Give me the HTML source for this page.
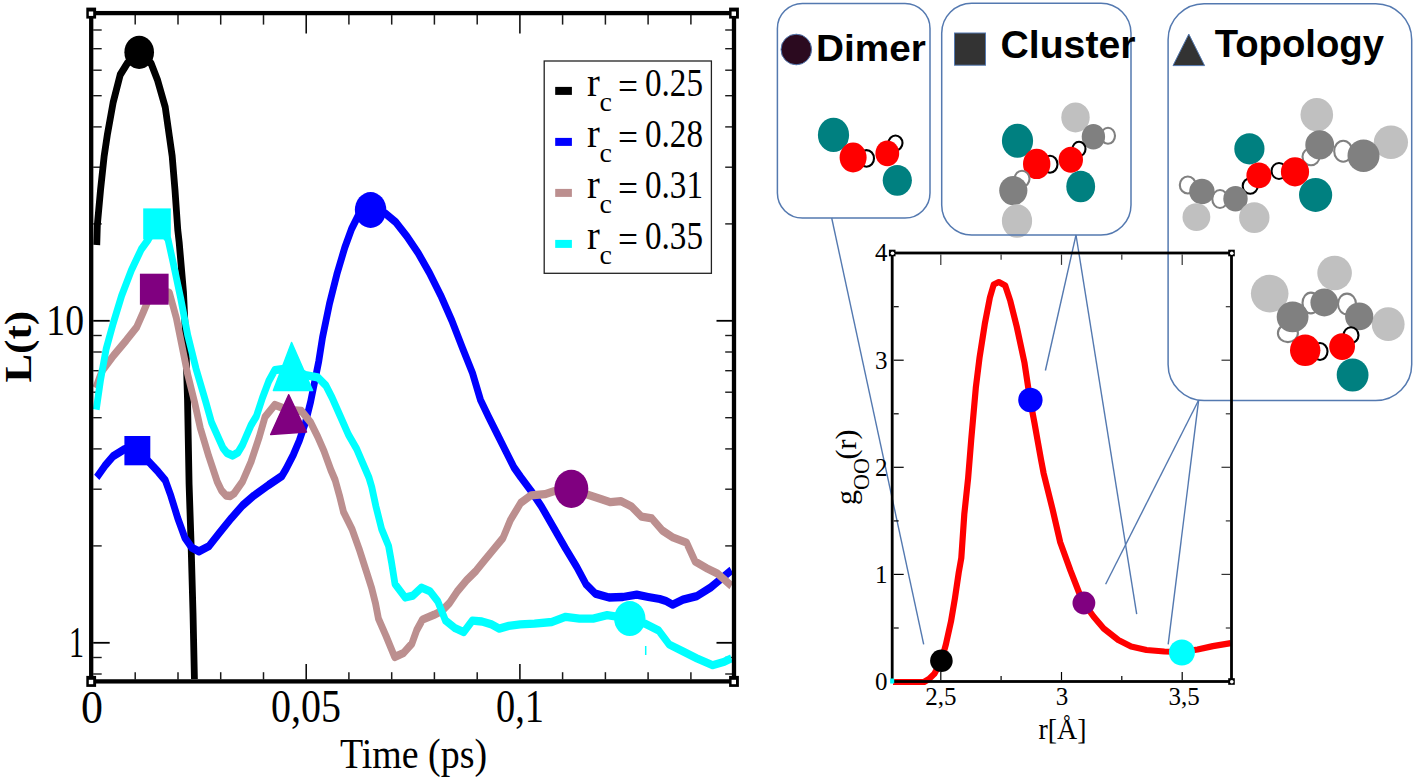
<!DOCTYPE html><html><head><meta charset="utf-8"><style>html,body{margin:0;padding:0;background:#fff;overflow:hidden;}.s{font-family:"Liberation Serif",serif;}.a{font-family:"Liberation Sans",sans-serif;}svg{display:block;}</style></head><body><svg width="1416" height="782" viewBox="0 0 1416 782">
<rect width="1416" height="782" fill="#fff"/>
<line x1="93.2" y1="674.0" x2="101.7" y2="674.0" stroke="#1a1a1a" stroke-width="1.4"/>
<line x1="732.0" y1="674.0" x2="725.2" y2="674.0" stroke="#1a1a1a" stroke-width="1.4"/>
<line x1="93.2" y1="657.5" x2="101.7" y2="657.5" stroke="#1a1a1a" stroke-width="1.4"/>
<line x1="732.0" y1="657.5" x2="725.2" y2="657.5" stroke="#1a1a1a" stroke-width="1.4"/>
<line x1="93.2" y1="642.8" x2="109.7" y2="642.8" stroke="#000" stroke-width="1.8"/>
<line x1="732.0" y1="642.8" x2="716.5" y2="642.8" stroke="#000" stroke-width="1.8"/>
<line x1="93.2" y1="545.9" x2="101.7" y2="545.9" stroke="#1a1a1a" stroke-width="1.4"/>
<line x1="732.0" y1="545.9" x2="725.2" y2="545.9" stroke="#1a1a1a" stroke-width="1.4"/>
<line x1="93.2" y1="489.2" x2="101.7" y2="489.2" stroke="#1a1a1a" stroke-width="1.4"/>
<line x1="732.0" y1="489.2" x2="725.2" y2="489.2" stroke="#1a1a1a" stroke-width="1.4"/>
<line x1="93.2" y1="448.9" x2="101.7" y2="448.9" stroke="#1a1a1a" stroke-width="1.4"/>
<line x1="732.0" y1="448.9" x2="725.2" y2="448.9" stroke="#1a1a1a" stroke-width="1.4"/>
<line x1="93.2" y1="417.7" x2="101.7" y2="417.7" stroke="#1a1a1a" stroke-width="1.4"/>
<line x1="732.0" y1="417.7" x2="725.2" y2="417.7" stroke="#1a1a1a" stroke-width="1.4"/>
<line x1="93.2" y1="392.2" x2="101.7" y2="392.2" stroke="#1a1a1a" stroke-width="1.4"/>
<line x1="732.0" y1="392.2" x2="725.2" y2="392.2" stroke="#1a1a1a" stroke-width="1.4"/>
<line x1="93.2" y1="370.7" x2="101.7" y2="370.7" stroke="#1a1a1a" stroke-width="1.4"/>
<line x1="732.0" y1="370.7" x2="725.2" y2="370.7" stroke="#1a1a1a" stroke-width="1.4"/>
<line x1="93.2" y1="352.0" x2="101.7" y2="352.0" stroke="#1a1a1a" stroke-width="1.4"/>
<line x1="732.0" y1="352.0" x2="725.2" y2="352.0" stroke="#1a1a1a" stroke-width="1.4"/>
<line x1="93.2" y1="335.5" x2="101.7" y2="335.5" stroke="#1a1a1a" stroke-width="1.4"/>
<line x1="732.0" y1="335.5" x2="725.2" y2="335.5" stroke="#1a1a1a" stroke-width="1.4"/>
<line x1="93.2" y1="320.8" x2="109.7" y2="320.8" stroke="#000" stroke-width="1.8"/>
<line x1="732.0" y1="320.8" x2="716.5" y2="320.8" stroke="#000" stroke-width="1.8"/>
<line x1="93.2" y1="223.9" x2="101.7" y2="223.9" stroke="#1a1a1a" stroke-width="1.4"/>
<line x1="732.0" y1="223.9" x2="725.2" y2="223.9" stroke="#1a1a1a" stroke-width="1.4"/>
<line x1="93.2" y1="167.2" x2="101.7" y2="167.2" stroke="#1a1a1a" stroke-width="1.4"/>
<line x1="732.0" y1="167.2" x2="725.2" y2="167.2" stroke="#1a1a1a" stroke-width="1.4"/>
<line x1="93.2" y1="126.9" x2="101.7" y2="126.9" stroke="#1a1a1a" stroke-width="1.4"/>
<line x1="732.0" y1="126.9" x2="725.2" y2="126.9" stroke="#1a1a1a" stroke-width="1.4"/>
<line x1="93.2" y1="95.7" x2="101.7" y2="95.7" stroke="#1a1a1a" stroke-width="1.4"/>
<line x1="732.0" y1="95.7" x2="725.2" y2="95.7" stroke="#1a1a1a" stroke-width="1.4"/>
<line x1="93.2" y1="70.2" x2="101.7" y2="70.2" stroke="#1a1a1a" stroke-width="1.4"/>
<line x1="732.0" y1="70.2" x2="725.2" y2="70.2" stroke="#1a1a1a" stroke-width="1.4"/>
<line x1="93.2" y1="48.7" x2="101.7" y2="48.7" stroke="#1a1a1a" stroke-width="1.4"/>
<line x1="732.0" y1="48.7" x2="725.2" y2="48.7" stroke="#1a1a1a" stroke-width="1.4"/>
<line x1="93.2" y1="30.0" x2="101.7" y2="30.0" stroke="#1a1a1a" stroke-width="1.4"/>
<line x1="732.0" y1="30.0" x2="725.2" y2="30.0" stroke="#1a1a1a" stroke-width="1.4"/>
<line x1="135.2" y1="679.4" x2="135.2" y2="672.1999999999999" stroke="#1a1a1a" stroke-width="1.5"/>
<line x1="135.2" y1="15.1" x2="135.2" y2="24.6" stroke="#1a1a1a" stroke-width="1.5"/>
<line x1="178.0" y1="679.4" x2="178.0" y2="672.1999999999999" stroke="#1a1a1a" stroke-width="1.5"/>
<line x1="178.0" y1="15.1" x2="178.0" y2="24.6" stroke="#1a1a1a" stroke-width="1.5"/>
<line x1="220.7" y1="679.4" x2="220.7" y2="672.1999999999999" stroke="#1a1a1a" stroke-width="1.5"/>
<line x1="220.7" y1="15.1" x2="220.7" y2="24.6" stroke="#1a1a1a" stroke-width="1.5"/>
<line x1="263.5" y1="679.4" x2="263.5" y2="672.1999999999999" stroke="#1a1a1a" stroke-width="1.5"/>
<line x1="263.5" y1="15.1" x2="263.5" y2="24.6" stroke="#1a1a1a" stroke-width="1.5"/>
<line x1="306.2" y1="679.4" x2="306.2" y2="664.0" stroke="#000" stroke-width="1.5"/>
<line x1="306.2" y1="15.1" x2="306.2" y2="33.6" stroke="#000" stroke-width="1.5"/>
<line x1="348.9" y1="679.4" x2="348.9" y2="672.1999999999999" stroke="#1a1a1a" stroke-width="1.5"/>
<line x1="348.9" y1="15.1" x2="348.9" y2="24.6" stroke="#1a1a1a" stroke-width="1.5"/>
<line x1="391.7" y1="679.4" x2="391.7" y2="672.1999999999999" stroke="#1a1a1a" stroke-width="1.5"/>
<line x1="391.7" y1="15.1" x2="391.7" y2="24.6" stroke="#1a1a1a" stroke-width="1.5"/>
<line x1="434.4" y1="679.4" x2="434.4" y2="672.1999999999999" stroke="#1a1a1a" stroke-width="1.5"/>
<line x1="434.4" y1="15.1" x2="434.4" y2="24.6" stroke="#1a1a1a" stroke-width="1.5"/>
<line x1="477.2" y1="679.4" x2="477.2" y2="672.1999999999999" stroke="#1a1a1a" stroke-width="1.5"/>
<line x1="477.2" y1="15.1" x2="477.2" y2="24.6" stroke="#1a1a1a" stroke-width="1.5"/>
<line x1="519.9" y1="679.4" x2="519.9" y2="664.0" stroke="#000" stroke-width="1.5"/>
<line x1="519.9" y1="15.1" x2="519.9" y2="33.6" stroke="#000" stroke-width="1.5"/>
<line x1="562.6" y1="679.4" x2="562.6" y2="672.1999999999999" stroke="#1a1a1a" stroke-width="1.5"/>
<line x1="562.6" y1="15.1" x2="562.6" y2="24.6" stroke="#1a1a1a" stroke-width="1.5"/>
<line x1="605.4" y1="679.4" x2="605.4" y2="672.1999999999999" stroke="#1a1a1a" stroke-width="1.5"/>
<line x1="605.4" y1="15.1" x2="605.4" y2="24.6" stroke="#1a1a1a" stroke-width="1.5"/>
<line x1="648.1" y1="679.4" x2="648.1" y2="672.1999999999999" stroke="#1a1a1a" stroke-width="1.5"/>
<line x1="648.1" y1="15.1" x2="648.1" y2="24.6" stroke="#1a1a1a" stroke-width="1.5"/>
<line x1="690.9" y1="679.4" x2="690.9" y2="672.1999999999999" stroke="#1a1a1a" stroke-width="1.5"/>
<line x1="690.9" y1="15.1" x2="690.9" y2="24.6" stroke="#1a1a1a" stroke-width="1.5"/>
<g clip-path="url(#cp)"><g transform="scale(0.82,1)">
<polyline points="118.0,245.0 118.7,225.0 122.6,190.0 127.0,156.3 131.1,133.8 137.9,102.8 146.6,74.7 155.1,63.5 169.8,52.3 184.3,63.5 192.2,80.3 201.5,107.1 206.6,136.6 210.0,156.3 213.4,190.0 216.8,230.0 218.5,242.2 223.8,292.8 226.5,340.7 228.7,400.0 230.6,484.4 232.9,540.7 235.4,613.7 237.1,679.0" fill="none" stroke="#000" stroke-width="8.3" stroke-linejoin="round" stroke-linecap="butt" />
<polyline points="118.0,477.4 127.7,466.1 137.9,456.3 151.7,449.2 167.4,450.6 183.3,463.3 192.8,471.7 201.5,480.2 208.3,495.7 216.8,518.2 225.5,537.9 234.0,547.7 242.6,551.4 254.6,546.3 268.3,532.2 282.1,518.2 295.7,505.5 309.5,495.7 327.6,485.0 343.8,476.0 348.8,469.0 357.6,455.0 365.0,440.7 372.6,422.3 378.8,401.8 383.8,381.4 388.8,360.9 393.3,337.5 401.8,303.8 411.3,272.8 420.5,247.5 428.7,229.0 436.6,216.0 452.0,210.0 470.5,213.8 482.6,222.2 496.2,236.3 510.0,253.1 523.7,272.8 537.4,295.3 551.1,320.7 564.0,348.0 576.2,373.0 586.0,400.0 595.7,416.6 606.0,433.5 616.3,450.3 626.6,467.2 635.0,477.0 647.7,491.0 660.2,506.3 675.4,528.0 689.4,548.0 703.4,567.0 714.8,584.4 726.0,593.6 742.8,597.5 759.6,597.0 776.5,594.7 790.5,597.0 804.6,599.0 812.2,601.0 820.4,604.7 832.9,599.6 849.8,596.1 866.6,587.5 879.3,578.9 892.0,570.2" fill="none" stroke="#0000ff" stroke-width="8.3" stroke-linejoin="round" stroke-linecap="butt" />
<polyline points="116.8,388.0 124.4,371.0 138.5,355.5 154.1,340.2 166.5,327.4 174.3,313.0 180.9,300.0 188.0,289.2 206.6,292.8 215.1,318.2 222.0,346.3 228.9,374.4 237.4,402.6 244.3,428.1 254.6,456.3 264.9,481.6 270.1,490.5 275.6,495.5 281.1,496.0 285.5,493.5 295.7,481.6 306.1,461.9 316.3,436.6 323.2,416.9 335.1,404.9 351.2,410.0 367.6,411.0 378.8,422.3 387.4,436.6 395.0,450.9 403.5,470.0 408.7,480.0 413.9,495.3 419.0,512.2 429.3,529.1 437.9,548.8 447.0,572.0 453.2,588.0 457.9,603.3 461.5,618.6 470.7,635.9 481.3,657.0 491.8,653.2 502.3,643.6 508.2,630.1 515.2,619.6 529.3,614.8 538.7,611.0 547.9,603.3 557.3,591.8 569.0,580.3 580.7,570.7 590.1,561.1 601.7,549.6 613.4,538.0 622.4,520.1 635.0,502.9 647.7,495.3 664.5,494.2 677.2,490.8 696.7,488.8 715.0,494.2 731.8,498.7 744.5,502.2 757.2,501.2 769.8,506.3 782.4,516.7 795.0,518.4 807.7,530.5 820.4,537.4 837.2,542.6 847.7,561.6 862.4,568.5 875.1,573.7 892.0,585.8" fill="none" stroke="#bc8f8f" stroke-width="8.3" stroke-linejoin="round" stroke-linecap="butt" />
<polyline points="117.4,409.6 122.6,380.0 129.4,349.1 137.9,323.8 148.3,295.7 160.2,270.3 172.3,249.2 180.9,239.4 191.5,223.9 204.9,239.4 211.7,264.7 220.4,298.5 228.9,335.0 239.1,368.8 251.2,402.6 258.0,422.5 271.8,447.8 276.8,453.0 283.8,455.5 290.2,452.5 295.7,445.0 306.1,425.3 312.7,416.2 320.1,397.7 327.6,381.4 335.1,370.1 354.9,368.0 372.6,375.2 387.4,377.3 397.4,385.5 405.0,397.7 415.0,416.2 424.9,434.6 434.9,448.9 442.4,463.2 449.9,477.5 453.3,486.9 458.5,506.6 465.4,529.1 473.9,546.0 477.4,562.0 481.7,584.0 494.1,597.5 503.5,595.6 514.0,587.6 524.5,591.4 533.9,601.4 543.3,620.6 555.0,628.2 565.5,632.1 576.0,620.6 587.7,621.5 599.4,624.4 608.8,628.6 620.5,625.9 634.5,624.4 651.8,623.7 672.9,622.0 689.8,616.8 706.6,618.6 723.4,618.6 740.4,615.1 767.7,618.6 786.6,623.7 803.5,630.7 816.1,644.5 832.9,651.4 849.8,658.3 868.8,665.2 883.5,661.7 892.0,658.3" fill="none" stroke="#00ffff" stroke-width="8.3" stroke-linejoin="round" stroke-linecap="butt" />
</g></g>
<defs><clipPath id="cp"><rect x="93" y="15" width="639" height="664.5"/></clipPath></defs>
<ellipse cx="139.2" cy="52.3" rx="14.8" ry="16.6" fill="#000"/>
<ellipse cx="370.6" cy="210" rx="15.75" ry="17.9" fill="#0000ff"/>
<ellipse cx="571.3" cy="488.8" rx="17" ry="19.1" fill="#800080"/>
<ellipse cx="629.8" cy="618.6" rx="15.7" ry="17.5" fill="#00ffff"/>
<rect x="143.2" y="208.4" width="27.6" height="31" fill="#00ffff"/>
<rect x="139.9" y="273.7" width="28.7" height="31" fill="#800080"/>
<rect x="124.4" y="436" width="25.9" height="29.3" fill="#0000ff"/>
<polygon points="291.6,342.5 273.4,390.6 312.6,390.6" fill="#00ffff" stroke="#00ffff" stroke-width="1.5" stroke-linejoin="round"/>
<polygon points="288.7,394.7 270.7,434.6 306.5,432.1" fill="#800080" stroke="#800080" stroke-width="1.5" stroke-linejoin="round"/>
<line x1="645.7" y1="646" x2="645.7" y2="655" stroke="#00ffff" stroke-width="1.5"/>
<rect x="91.2" y="13.1" width="642.8" height="668.3" fill="none" stroke="#000" stroke-width="4.3"/>
<rect x="86.3" y="7.6" width="9.8" height="11" fill="#000"/><rect x="88.8" y="11.5" width="4.4" height="4.4" fill="#fff"/>
<rect x="86.3" y="675.9" width="9.8" height="11" fill="#000"/><rect x="88.8" y="679.8" width="4.4" height="4.4" fill="#fff"/>
<rect x="729.1" y="675.9" width="9.8" height="11" fill="#000"/><rect x="731.6" y="679.8" width="4.4" height="4.4" fill="#fff"/>
<rect x="729.1" y="7.6" width="9.8" height="11" fill="#000"/><rect x="731.6" y="11.5" width="4.4" height="4.4" fill="#fff"/>
<rect x="544.2" y="61" width="167.2" height="212.3" fill="#fff" stroke="#222" stroke-width="1.3"/>
<rect x="555.2" y="86.9" width="16.7" height="8" fill="#000"/>
<text x="587" y="95.8" class="s" font-size="40" textLength="12.8" lengthAdjust="spacingAndGlyphs">r</text>
<text x="599.5" y="110.8" class="s" font-size="28">c</text>
<text x="618" y="99.8" class="s" font-size="40" textLength="20" lengthAdjust="spacingAndGlyphs">=</text>
<text x="645" y="95.8" class="s" font-size="40.5" textLength="58" lengthAdjust="spacingAndGlyphs">0.25</text>
<rect x="555.2" y="137.9" width="16.7" height="8" fill="#0000ff"/>
<text x="587" y="146.8" class="s" font-size="40" textLength="12.8" lengthAdjust="spacingAndGlyphs">r</text>
<text x="599.5" y="161.8" class="s" font-size="28">c</text>
<text x="618" y="150.8" class="s" font-size="40" textLength="20" lengthAdjust="spacingAndGlyphs">=</text>
<text x="645" y="146.8" class="s" font-size="40.5" textLength="58" lengthAdjust="spacingAndGlyphs">0.28</text>
<rect x="555.2" y="188.9" width="16.7" height="8" fill="#bc8f8f"/>
<text x="587" y="197.8" class="s" font-size="40" textLength="12.8" lengthAdjust="spacingAndGlyphs">r</text>
<text x="599.5" y="212.8" class="s" font-size="28">c</text>
<text x="618" y="201.8" class="s" font-size="40" textLength="20" lengthAdjust="spacingAndGlyphs">=</text>
<text x="645" y="197.8" class="s" font-size="40.5" textLength="58" lengthAdjust="spacingAndGlyphs">0.31</text>
<rect x="555.2" y="239.9" width="16.7" height="8" fill="#00ffff"/>
<text x="587" y="248.8" class="s" font-size="40" textLength="12.8" lengthAdjust="spacingAndGlyphs">r</text>
<text x="599.5" y="263.8" class="s" font-size="28">c</text>
<text x="618" y="252.8" class="s" font-size="40" textLength="20" lengthAdjust="spacingAndGlyphs">=</text>
<text x="645" y="248.8" class="s" font-size="40.5" textLength="58" lengthAdjust="spacingAndGlyphs">0.35</text>
<text x="46.3" y="335" class="s" font-size="44" textLength="37.7" lengthAdjust="spacingAndGlyphs">10</text>
<text x="69" y="657" class="s" font-size="44" textLength="15" lengthAdjust="spacingAndGlyphs">1</text>
<text x="81" y="722.6" class="s" font-size="46" textLength="22" lengthAdjust="spacingAndGlyphs">0</text>
<text x="271" y="721.6" class="s" font-size="46" textLength="70" lengthAdjust="spacingAndGlyphs">0,05</text>
<text x="496" y="721.6" class="s" font-size="46" textLength="48" lengthAdjust="spacingAndGlyphs">0,1</text>
<text x="340" y="768.4" class="s" font-size="42" textLength="147" lengthAdjust="spacingAndGlyphs">Time (ps)</text>
<text transform="translate(30.5,382.5) scale(0.9,1) rotate(-90)" x="0" y="0" class="s" font-weight="bold" font-size="41.5" textLength="71.5" lengthAdjust="spacingAndGlyphs">L(t)</text>
<rect x="777.4" y="3.4" width="152.6" height="214.6" rx="25" ry="25" fill="#fff"/>
<rect x="941.7" y="3.3" width="189.3" height="231.7" rx="30" ry="30" fill="#fff"/>
<rect x="1168.1" y="3.7" width="243.6" height="396.9" rx="36" ry="36" fill="#fff"/>
<ellipse cx="833.5" cy="134.9" rx="15.6" ry="17.1" fill="#008080"/>
<ellipse cx="866.5" cy="158.4" rx="7.5" ry="8.3" fill="#fff" stroke="#000" stroke-width="2.1"/>
<ellipse cx="853.1" cy="157.5" rx="13.5" ry="15" fill="#ff0000"/>
<ellipse cx="895.5" cy="143" rx="7" ry="7.5" fill="#fff" stroke="#000" stroke-width="2.1"/>
<ellipse cx="887.3" cy="153.4" rx="11.9" ry="12.9" fill="#ff0000"/>
<ellipse cx="897.3" cy="180.3" rx="14.6" ry="15.4" fill="#008080"/>
<ellipse cx="1075.5" cy="117.4" rx="14.2" ry="15" fill="#c0c0c0"/>
<ellipse cx="1108" cy="135.8" rx="7" ry="8" fill="#fff" stroke="#808080" stroke-width="2.1"/>
<ellipse cx="1093.4" cy="136.8" rx="11.7" ry="12.8" fill="#808080"/>
<ellipse cx="1017.5" cy="140.8" rx="15.6" ry="17" fill="#008080"/>
<ellipse cx="1050" cy="164.3" rx="7.5" ry="8.5" fill="#fff" stroke="#000" stroke-width="2.1"/>
<ellipse cx="1079" cy="149" rx="6.5" ry="7.2" fill="#fff" stroke="#000" stroke-width="2.1"/>
<ellipse cx="1036.7" cy="163.9" rx="13.7" ry="15.2" fill="#ff0000"/>
<ellipse cx="1070.8" cy="159.8" rx="12.2" ry="13" fill="#ff0000"/>
<ellipse cx="1080.7" cy="186.5" rx="14.4" ry="15.8" fill="#008080"/>
<ellipse cx="1022" cy="178.8" rx="7.5" ry="8" fill="#fff" stroke="#808080" stroke-width="2.1"/>
<ellipse cx="1013.3" cy="190.6" rx="14.1" ry="14.7" fill="#808080"/>
<ellipse cx="1017" cy="221" rx="15.1" ry="16.8" fill="#c0c0c0"/>
<ellipse cx="1316.8" cy="114.7" rx="16.3" ry="16.6" fill="#c0c0c0"/>
<ellipse cx="1311" cy="156.7" rx="8.5" ry="8.5" fill="#fff" stroke="#808080" stroke-width="2.1"/>
<ellipse cx="1319.7" cy="144.9" rx="14.4" ry="14.6" fill="#808080"/>
<ellipse cx="1343.2" cy="151.2" rx="9" ry="10.5" fill="#fff" stroke="#808080" stroke-width="2.1"/>
<ellipse cx="1390.9" cy="142.3" rx="17.1" ry="16.8" fill="#c0c0c0"/>
<ellipse cx="1363.5" cy="155.8" rx="16" ry="16.3" fill="#808080"/>
<ellipse cx="1249.4" cy="148.8" rx="15.1" ry="15.6" fill="#008080"/>
<ellipse cx="1279" cy="171" rx="7.5" ry="8" fill="#fff" stroke="#000" stroke-width="2.1"/>
<ellipse cx="1250.2" cy="186" rx="7.5" ry="7.7" fill="#fff" stroke="#000" stroke-width="2.1"/>
<ellipse cx="1258.9" cy="175.4" rx="12.5" ry="12.9" fill="#ff0000"/>
<ellipse cx="1295" cy="171.8" rx="14.1" ry="14.6" fill="#ff0000"/>
<ellipse cx="1315.6" cy="194.9" rx="16.6" ry="17" fill="#008080"/>
<ellipse cx="1187.8" cy="185" rx="8" ry="8.5" fill="#fff" stroke="#808080" stroke-width="2.1"/>
<ellipse cx="1220" cy="199" rx="7.7" ry="9" fill="#fff" stroke="#808080" stroke-width="2.1"/>
<ellipse cx="1201.9" cy="191.5" rx="12.7" ry="12.8" fill="#808080"/>
<ellipse cx="1235.5" cy="198.7" rx="12.2" ry="12.7" fill="#808080"/>
<ellipse cx="1196.4" cy="217.1" rx="13.9" ry="13.9" fill="#c0c0c0"/>
<ellipse cx="1254.3" cy="217.6" rx="15.2" ry="15.4" fill="#c0c0c0"/>
<ellipse cx="1334.6" cy="273" rx="17.3" ry="17.2" fill="#c0c0c0"/>
<ellipse cx="1269.7" cy="293.6" rx="18.8" ry="18.8" fill="#c0c0c0"/>
<ellipse cx="1310.9" cy="303" rx="8.4" ry="10.4" fill="#fff" stroke="#808080" stroke-width="2.1"/>
<ellipse cx="1347" cy="304" rx="9" ry="10.4" fill="#fff" stroke="#808080" stroke-width="2.1"/>
<ellipse cx="1324.3" cy="302.5" rx="13.9" ry="13.9" fill="#808080"/>
<ellipse cx="1287.9" cy="333.2" rx="10" ry="8.9" fill="#fff" stroke="#808080" stroke-width="2.1"/>
<ellipse cx="1292.6" cy="316.9" rx="15.9" ry="15.4" fill="#808080"/>
<ellipse cx="1388.2" cy="324.2" rx="16.4" ry="16.9" fill="#c0c0c0"/>
<ellipse cx="1359.2" cy="316.4" rx="14.1" ry="13.9" fill="#808080"/>
<ellipse cx="1351" cy="335.2" rx="7.5" ry="7.9" fill="#fff" stroke="#000" stroke-width="2.1"/>
<ellipse cx="1320" cy="351.5" rx="7.5" ry="8.5" fill="#fff" stroke="#000" stroke-width="2.1"/>
<ellipse cx="1305.2" cy="350.3" rx="15.2" ry="15.7" fill="#ff0000"/>
<ellipse cx="1342.1" cy="346.6" rx="12.9" ry="13.4" fill="#ff0000"/>
<ellipse cx="1352.6" cy="375" rx="15.9" ry="16.6" fill="#008080"/>
<rect x="777.4" y="3.4" width="152.6" height="214.6" rx="25" ry="25" fill="none" stroke="#5479b0" stroke-width="1.5"/>
<rect x="941.7" y="3.3" width="189.3" height="231.7" rx="30" ry="30" fill="none" stroke="#5479b0" stroke-width="1.5"/>
<rect x="1168.1" y="3.7" width="243.6" height="396.9" rx="36" ry="36" fill="none" stroke="#5479b0" stroke-width="1.5"/>
<circle cx="796.3" cy="49.5" r="15.3" fill="#2b0a1f" stroke="#5479b0" stroke-width="1"/>
<text x="816" y="61" class="a" font-weight="bold" font-size="37.8" textLength="109.8" lengthAdjust="spacingAndGlyphs">Dimer</text>
<rect x="954.5" y="33" width="31" height="32.2" fill="#333" stroke="#5479b0" stroke-width="1"/>
<text x="1000.5" y="57.8" class="a" font-weight="bold" font-size="38.4" textLength="135" lengthAdjust="spacingAndGlyphs">Cluster</text>
<polygon points="1188.8,34.1 1173,65.6 1204.6,65.6" fill="#333" stroke="#5479b0" stroke-width="1"/>
<text x="1214.7" y="57.3" class="a" font-weight="bold" font-size="38.4" textLength="169.3" lengthAdjust="spacingAndGlyphs">Topology</text>
<line x1="831.7" y1="218" x2="923.7" y2="644.4" stroke="#5479b0" stroke-width="1.4"/>
<line x1="1076" y1="235" x2="1045.4" y2="370.5" stroke="#5479b0" stroke-width="1.4"/>
<line x1="1076" y1="235" x2="1136.7" y2="614.2" stroke="#5479b0" stroke-width="1.4"/>
<line x1="1198.6" y1="400.3" x2="1105.6" y2="584.3" stroke="#5479b0" stroke-width="1.4"/>
<line x1="1198.6" y1="400.3" x2="1168.2" y2="644.4" stroke="#5479b0" stroke-width="1.4"/>
<line x1="893.7" y1="628.0" x2="898.7" y2="628.0" stroke="#000" stroke-width="1.2"/>
<line x1="1230.0" y1="628.0" x2="1225.8" y2="628.0" stroke="#333" stroke-width="1.2"/>
<line x1="893.7" y1="574.4" x2="903.7" y2="574.4" stroke="#000" stroke-width="1.2"/>
<line x1="1230.0" y1="574.4" x2="1221.5" y2="574.4" stroke="#333" stroke-width="1.2"/>
<line x1="893.7" y1="520.9" x2="898.7" y2="520.9" stroke="#000" stroke-width="1.2"/>
<line x1="1230.0" y1="520.9" x2="1225.8" y2="520.9" stroke="#333" stroke-width="1.2"/>
<line x1="893.7" y1="467.3" x2="903.7" y2="467.3" stroke="#000" stroke-width="1.2"/>
<line x1="1230.0" y1="467.3" x2="1221.5" y2="467.3" stroke="#333" stroke-width="1.2"/>
<line x1="893.7" y1="413.8" x2="898.7" y2="413.8" stroke="#000" stroke-width="1.2"/>
<line x1="1230.0" y1="413.8" x2="1225.8" y2="413.8" stroke="#333" stroke-width="1.2"/>
<line x1="893.7" y1="360.2" x2="903.7" y2="360.2" stroke="#000" stroke-width="1.2"/>
<line x1="1230.0" y1="360.2" x2="1221.5" y2="360.2" stroke="#333" stroke-width="1.2"/>
<line x1="893.7" y1="306.7" x2="898.7" y2="306.7" stroke="#000" stroke-width="1.2"/>
<line x1="1230.0" y1="306.7" x2="1225.8" y2="306.7" stroke="#333" stroke-width="1.2"/>
<line x1="940.8" y1="680.0" x2="940.8" y2="672.0" stroke="#000" stroke-width="1.2"/>
<line x1="940.8" y1="254.5" x2="940.8" y2="264.9" stroke="#333" stroke-width="1.2"/>
<line x1="1001.1" y1="680.0" x2="1001.1" y2="676.0" stroke="#000" stroke-width="1.2"/>
<line x1="1001.1" y1="254.5" x2="1001.1" y2="259.7" stroke="#333" stroke-width="1.2"/>
<line x1="1061.5" y1="680.0" x2="1061.5" y2="672.0" stroke="#000" stroke-width="1.2"/>
<line x1="1061.5" y1="254.5" x2="1061.5" y2="264.9" stroke="#333" stroke-width="1.2"/>
<line x1="1121.8" y1="680.0" x2="1121.8" y2="676.0" stroke="#000" stroke-width="1.2"/>
<line x1="1121.8" y1="254.5" x2="1121.8" y2="259.7" stroke="#333" stroke-width="1.2"/>
<line x1="1182.2" y1="680.0" x2="1182.2" y2="672.0" stroke="#000" stroke-width="1.2"/>
<line x1="1182.2" y1="254.5" x2="1182.2" y2="264.9" stroke="#333" stroke-width="1.2"/>
<polyline points="893.0,682.0 924.0,682.0 929.0,679.0 934.4,673.8 941.4,660.7 945.9,644.4 951.0,621.4 954.9,598.4 958.7,572.8 961.3,558.0 964.3,514.2 968.1,478.4 971.2,440.0 975.8,387.9 979.6,357.2 984.8,323.9 989.9,297.5 993.7,284.5 998.8,282.0 1005.2,285.5 1010.3,300.9 1016.7,326.5 1024.4,362.3 1030.0,399.4 1034.6,423.7 1037.5,440.0 1041.0,459.5 1043.6,473.2 1052.5,509.0 1060.2,542.3 1070.4,570.4 1079.4,593.5 1083.7,602.9 1093.5,616.5 1103.7,628.5 1118.3,640.0 1131.1,646.5 1146.5,650.0 1164.4,651.5 1181.7,652.0 1197.6,649.5 1212.9,646.1 1230.8,643.1" fill="none" stroke="#ff0000" stroke-width="6.2" stroke-linejoin="round" stroke-linecap="butt" />
<rect x="892.2" y="253.0" width="339.3" height="428.5" fill="none" stroke="#000" stroke-width="2.8"/>
<rect x="888.9" y="249.7" width="6.6" height="6.6" fill="#000"/><circle cx="892.5" cy="253.3" r="1.8" fill="#fff"/>
<rect x="1228.2" y="249.7" width="6.6" height="6.6" fill="#000"/><circle cx="1231.8" cy="253.3" r="1.8" fill="#fff"/>
<rect x="1228.2" y="678.2" width="6.6" height="6.6" fill="#000"/><circle cx="1231.8" cy="681.8" r="1.8" fill="#fff"/>
<rect x="890.2" y="678.5" width="4" height="5" fill="#00ffff"/>
<circle cx="941.4" cy="660.7" r="11.3" fill="#000"/>
<circle cx="1030.4" cy="400" r="12.2" fill="#0000ff"/>
<circle cx="1083.9" cy="603" r="11.4" fill="#800080"/>
<circle cx="1181.9" cy="652.5" r="13" fill="#00ffff"/>
<text x="887.5" y="689.8" class="s" font-size="25" text-anchor="end">0</text>
<text x="887.5" y="582.7" class="s" font-size="25" text-anchor="end">1</text>
<text x="887.5" y="475.6" class="s" font-size="25" text-anchor="end">2</text>
<text x="887.5" y="368.5" class="s" font-size="25" text-anchor="end">3</text>
<text x="887.5" y="261.4" class="s" font-size="25" text-anchor="end">4</text>
<text x="940.8" y="704.5" class="s" font-size="25" text-anchor="middle">2,5</text>
<text x="1062" y="704.5" class="s" font-size="25" text-anchor="middle">3</text>
<text x="1184" y="704.5" class="s" font-size="25" text-anchor="middle">3,5</text>
<text x="1038.5" y="739.3" class="s" font-size="28.5" textLength="48" lengthAdjust="spacingAndGlyphs">r[&#197;]</text>
<g transform="translate(856,505) rotate(-90)"><text x="0" y="0" class="s" font-size="30">g<tspan font-size="22.2" dy="12.6" dx="0">OO</tspan><tspan dy="-12.6" dx="-1.5">(r)</tspan></text></g>
</svg></body></html>
